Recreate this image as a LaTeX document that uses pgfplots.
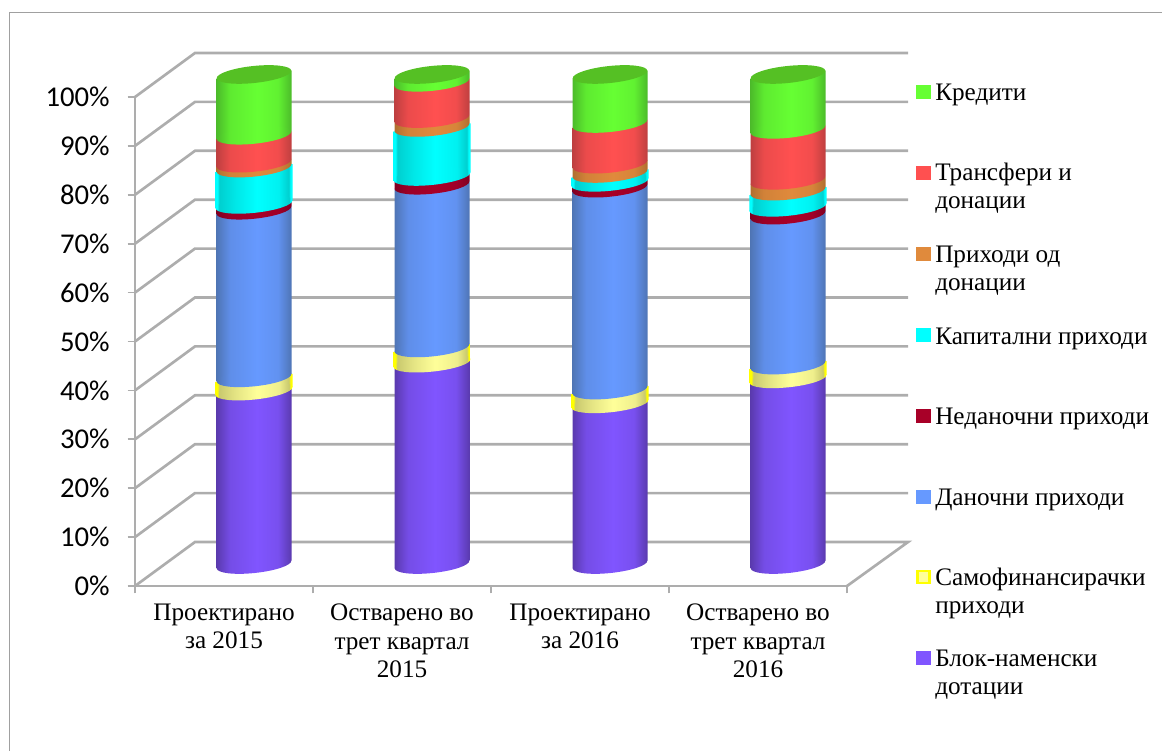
\documentclass[border=0pt]{standalone}
\usepackage{pgfplots}
\pgfplotsset{compat=1.18}
\usepackage{fontspec}
\setmainfont{Liberation Serif}
\newfontfamily\tickfont{Carlito}
\usetikzlibrary{shapes.geometric}
\definecolor{gridc}{HTML}{ADADAD}
\definecolor{framec}{HTML}{A0A0A0}
% palette
\definecolor{gE}{HTML}{4CBB2A}\definecolor{gM}{HTML}{66FF33}\definecolor{gC}{HTML}{55C024}
\definecolor{rE}{HTML}{BE3F40}\definecolor{rM}{HTML}{FF5050}
\definecolor{oE}{HTML}{B06F30}\definecolor{oM}{HTML}{E08A3C}
\definecolor{cB}{HTML}{00FFFF}\definecolor{cE}{HTML}{00CFCF}\definecolor{cM}{HTML}{00FFFF}
\definecolor{dE}{HTML}{7F0022}\definecolor{dM}{HTML}{A80028}
\definecolor{bE}{HTML}{4F75B5}\definecolor{bM}{HTML}{6699FF}
\definecolor{yB}{HTML}{FFFF00}\definecolor{yE}{HTML}{C9C96E}\definecolor{yM}{HTML}{FFFF99}
\definecolor{pE}{HTML}{5A3AAE}\definecolor{pM}{HTML}{8055FF}
\newcommand\mkshade[3]{\pgfdeclarehorizontalshading{#1}{100bp}{color(0bp)=(#2); color(25bp)=(#2); color(34bp)=(#3!70!#2); color(52bp)=(#3); color(66bp)=(#3!80!#2); color(75bp)=(#2); color(100bp)=(#2)}}
\newcommand\mkbevel[4]{\pgfdeclarehorizontalshading{#1}{100bp}{color(0bp)=(#2); color(25bp)=(#2); color(26.5bp)=(#2); color(27.5bp)=(#3); color(38bp)=(#3!50!#4); color(52bp)=(#4); color(66bp)=(#3!30!#4); color(72.5bp)=(#3); color(73.5bp)=(#2); color(75bp)=(#2); color(100bp)=(#2)}}
\mkshade{shG}{gE}{gM}\mkshade{shR}{rE}{rM}\mkshade{shO}{oE}{oM}\mkshade{shD}{dE}{dM}
\mkshade{shB}{bE}{bM}\mkshade{shP}{pE}{pM}
\mkbevel{shC}{cB}{cE}{cM}\mkbevel{shY}{yB}{yE}{yM}
\pgfdeclarehorizontalshading{shT}{100bp}{color(0bp)=(gC); color(100bp)=(gC)}
\pgfplotsset{capnode/.style 2 args={
    nodes near coords={\phantom{.}},
    nodes near coords style={shape=ellipse,shading=#1,anchor=center,inner sep=0pt,outer sep=0pt,
      minimum width=#2,minimum height=12.75pt,rotate=6}}}
\newcommand\seg[3]{% shading, value, width in pt
  \addplot[draw=none,fill=none,bar width=#3,capnode={#1}{#3}] coordinates {(0,0.001)};
  \addplot[draw=none,shading=#1,bar width=#3,yslant=0.105] coordinates {(0,#2)};
}
\newcommand\cyl[9]{%
\begin{axis}[at={(#1*0.75pt,-564.5*0.75pt)},anchor=south west,scale only axis,width=100pt,height=367.5pt,
  xmin=0,xmax=1,ymin=0,ymax=100,hide axis,clip=false,ybar stacked,bar shift=0pt,reverse stacked plots=false]
\seg{shP}{#2}{56.25pt}
\seg{shY}{#3}{58pt}
\seg{shB}{#4}{56.25pt}
\seg{shD}{#5}{56.25pt}
\seg{shC}{#6}{58pt}
\seg{shO}{#7}{56.25pt}
\seg{shR}{#8}{56.25pt}
\seg{shG}{#9}{56.25pt}
\addplot[draw=none,fill=none,bar width=56.25pt,capnode={shT}{56.25pt}] coordinates {(0,0.001)};
\end{axis}}
\newcommand\leg[5]{% y top, fill, draw, text, baseline y of last line
  \path[fill=#2,draw=#3,line width=1.6pt] (917.5,#1) rectangle ++(12,-12);
  \node[anchor=base west,inner sep=0pt,font=\fontsize{18.9pt}{20.6pt}\selectfont,align=left] at (935,#5) {#4};
}
\begin{document}
\begin{tikzpicture}[x=0.75pt,y=0.75pt]
\path[use as bounding box] (0,0) rectangle (1162,-751);
\draw[framec,line width=1.2pt] (1162,-12.5) -- (9.5,-12.5) -- (9.5,-751);
\begin{axis}[at={(135*0.75pt,-586*0.75pt)},anchor=south west,scale only axis,width=534pt,height=366.75pt,
  xmin=0,xmax=4,ymin=0,ymax=100,clip=false,
  axis x line=bottom,axis y line=left,axis line style={-,draw=gridc,line width=2pt},
  tick style={draw=gridc,line width=1.3pt},
  major tick length=5.5pt,tick align=outside,
  xtick={0,1,2,3,4},xticklabels={},
  extra x ticks={0.5,1.5,2.5,3.5},
  extra x tick style={major tick length=0pt,
    xticklabel style={font=\fontsize{18.9pt}{21.3pt}\selectfont,align=center,anchor=north,yshift=-10pt}},
  extra x tick labels={{Проектирано\\за 2015},{Остварено во\\трет квартал\\2015},{Проектирано\\за 2016},{Остварено во\\трет квартал\\2016}},
  ytick={0,10,...,100},
  yticklabel={\pgfmathprintnumber{\tick}\%},
  yticklabel style={font=\tickfont\fontsize{21.5pt}{24pt}\selectfont,/pgf/number format/assume math mode=true,xshift=-10pt},
]
\addplot[gridc,line width=2pt,forget plot] coordinates {(0,100)(0.337,109)(4.343,109)};
\addplot[gridc,line width=2pt,forget plot] coordinates {(0,90)(0.337,99)(4.343,99)};
\addplot[gridc,line width=2pt,forget plot] coordinates {(0,80)(0.337,89)(4.343,89)};
\addplot[gridc,line width=2pt,forget plot] coordinates {(0,70)(0.337,79)(4.343,79)};
\addplot[gridc,line width=2pt,forget plot] coordinates {(0,60)(0.337,69)(4.343,69)};
\addplot[gridc,line width=2pt,forget plot] coordinates {(0,50)(0.337,59)(4.343,59)};
\addplot[gridc,line width=2pt,forget plot] coordinates {(0,40)(0.337,49)(4.343,49)};
\addplot[gridc,line width=2pt,forget plot] coordinates {(0,30)(0.337,39)(4.343,39)};
\addplot[gridc,line width=2pt,forget plot] coordinates {(0,20)(0.337,29)(4.343,29)};
\addplot[gridc,line width=2pt,forget plot] coordinates {(0,10)(0.337,19)(4.343,19)};
\addplot[gridc,line width=2pt,forget plot] coordinates {(0,0)(0.337,9)(4.343,9)(4,0)};
\end{axis}
\cyl{254}{35.4}{2.7}{34.2}{1.2}{7.4}{1.0}{5.7}{12.4}
\cyl{432}{41.1}{3.1}{33.2}{1.8}{10.0}{1.8}{7.4}{1.6}
\cyl{610}{32.8}{2.8}{41.2}{1.2}{1.8}{1.9}{8.3}{10.0}
\cyl{788}{37.9}{2.8}{30.6}{1.6}{3.3}{2.2}{10.4}{11.2}
\leg{-86}{gM}{gM}{Кредити}{-100}
\leg{-167}{rM}{rM}{Трансфери и\\донации}{-208}
\leg{-248}{oM}{oM}{Приходи од\\донации}{-290}
\leg{-329}{cB}{cB}{Капитални приходи}{-344}
\leg{-410}{dM}{dM}{Неданочни приходи}{-424}
\leg{-491}{bM}{bM}{Даночни приходи}{-505}
\leg{-571}{yM}{yB}{Самофинансирачки\\приходи}{-613}
\leg{-652}{pM}{pM}{Блок-наменски\\дотации}{-694}
\end{tikzpicture}
\end{document}
